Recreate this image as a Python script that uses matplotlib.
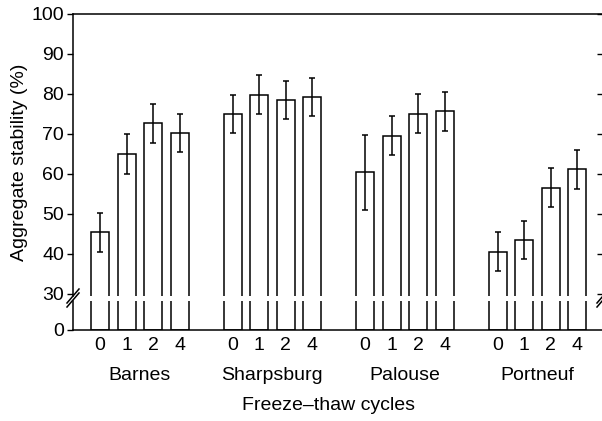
import numpy as np
import matplotlib.pyplot as plt

plt.rcParams['font.family'] = ['Liberation Sans', 'DejaVu Sans']
plt.rcParams['font.size'] = 14

soils = ['Barnes', 'Sharpsburg', 'Palouse', 'Portneuf']
cycles = ['0', '1', '2', '4']
barnes = [45.4, 65.0, 72.7, 70.2]
sharpsburg = [75.0, 79.8, 78.5, 79.3]
palouse = [60.4, 69.6, 75.1, 75.7]
portneuf = [40.6, 43.5, 56.6, 61.2]
barnes_err = [4.8, 4.9, 4.85, 4.8]
sharpsburg_err = [4.8, 4.9, 4.8, 4.8]
palouse_err = [9.3, 4.8, 4.8, 4.85]
portneuf_err = [4.85, 4.8, 4.8, 4.85]

values = [barnes, sharpsburg, palouse, portneuf]
errors = [barnes_err, sharpsburg_err, palouse_err, portneuf_err]

W, H = 602, 421
fig = plt.figure(figsize=(W / 100, H / 100), dpi=100)


def px_axes(left, top, right, bottom):
    return fig.add_axes([left / W, 1 - bottom / H, (right - left) / W, (bottom - top) / H])


ax_top = px_axes(73, 14, 603, 296)
ax_bot = px_axes(73, 301, 603, 329.5)

pos = []
for g in range(len(soils)):
    pos.append(np.arange(len(cycles)) + g * 5)
pos = np.array(pos)

for g in range(len(soils)):
    for ax in (ax_top, ax_bot):
        ax.bar(pos[g], values[g], width=0.68, facecolor='white', edgecolor='black',
               linewidth=1.1, zorder=2)
    ax_top.errorbar(pos[g], values[g], yerr=errors[g], fmt='none', ecolor='black',
                    elinewidth=1.1, capsize=2.4, capthick=1.1, zorder=3)

xlim = (-1.02, 18.98)
ax_top.set_xlim(*xlim)
ax_bot.set_xlim(*xlim)
ax_top.set_ylim(29.5, 100)
ax_bot.set_ylim(0, 1)

ax_top.set_yticks(np.arange(30, 101, 10))
ax_bot.set_yticks([0])
ax_top.set_xticks([])
ax_top.spines['bottom'].set_visible(False)
ax_bot.spines['top'].set_visible(False)
for ax in (ax_top, ax_bot):
    ax.spines['right'].set_visible(False)
    ax.tick_params(axis='y', direction='out', length=4.5, width=1, pad=2)
    for s in ax.spines.values():
        s.set_linewidth(1.1)

ax_bot.set_xticks(pos.ravel())
ax_bot.set_xticklabels(cycles * len(soils))
ax_bot.tick_params(axis='x', length=0, pad=5.5)

# inward ticks on the right edge
ax_r = ax_top.twinx()
ax_r.set_ylim(ax_top.get_ylim())
ax_r.set_yticks(np.arange(30, 101, 10))
ax_r.tick_params(axis='y', direction='in', length=4.5, width=1, labelright=False)
for s in ax_r.spines.values():
    s.set_visible(False)

for g, name in enumerate(soils):
    ax_bot.annotate(name, xy=(pos[g].mean(), 0), xycoords=('data', 'axes fraction'),
                    xytext=(0, -33), textcoords='offset points', ha='center', va='center')

fig.text(328 / W, 1 - 406 / H, 'Freeze\u2013thaw cycles', ha='center', va='center')
fig.text(20 / W, 1 - 162 / H, 'Aggregate stability (%)', ha='center', va='center',
         rotation=90)

# axis break marks
for cx in (73, 603):
    for dy in (-2, 2):
        y0, y1 = 298 + dy + 7, 298 + dy - 7
        fig.add_artist(plt.Line2D([(cx - 6) / W, (cx + 6) / W], [1 - y0 / H, 1 - y1 / H],
                                  color='black', linewidth=1.1))

fig.savefig('out.png', dpi=100)
